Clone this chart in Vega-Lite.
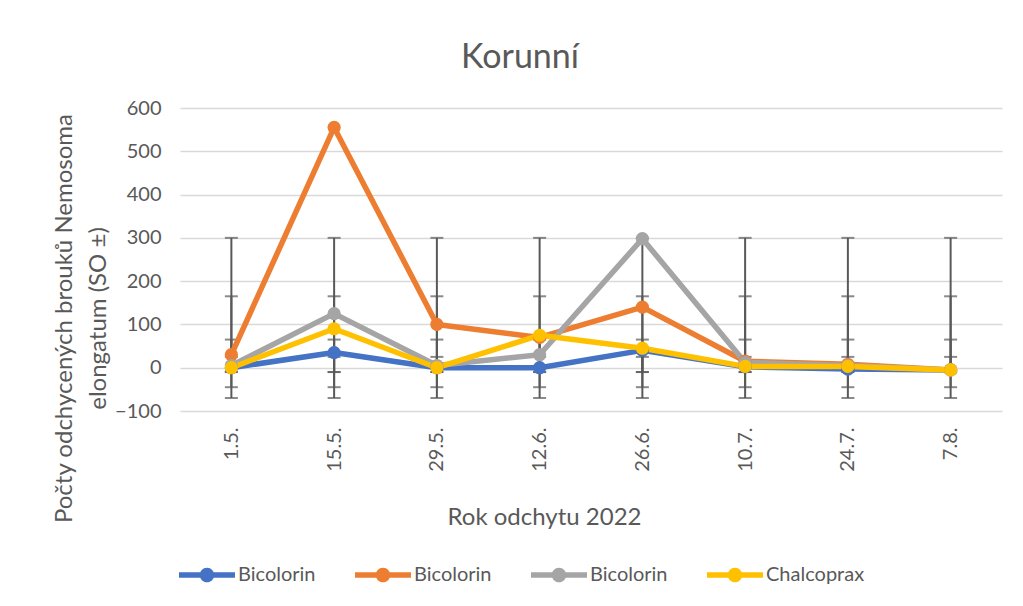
{
  "$schema": "https://vega.github.io/schema/vega-lite/v6.json",
  "width": 822,
  "height": 303,
  "autosize": {"type": "none"},
  "padding": {"left": 180, "top": 108, "right": 21, "bottom": 195},
  "background": "white",
  "config": {
    "view": {"stroke": null},
    "font": "Lato"
  },
  "title": {
    "text": "Korunní",
    "font": "Lato",
    "fontSize": 34,
    "fontWeight": "normal",
    "color": "#595959",
    "anchor": "middle",
    "dx": -71,
    "offset": 23
  },
  "data": {
    "values": [
      {"date": "1.5.", "series": "Bicolorin 1", "value": 0, "lo": -10, "hi": 25},
      {"date": "15.5.", "series": "Bicolorin 1", "value": 35, "lo": -10, "hi": 25},
      {"date": "29.5.", "series": "Bicolorin 1", "value": 0, "lo": -10, "hi": 25},
      {"date": "12.6.", "series": "Bicolorin 1", "value": 0, "lo": -10, "hi": 25},
      {"date": "26.6.", "series": "Bicolorin 1", "value": 40, "lo": -10, "hi": 25},
      {"date": "10.7.", "series": "Bicolorin 1", "value": 2, "lo": -10, "hi": 25},
      {"date": "24.7.", "series": "Bicolorin 1", "value": -3, "lo": -10, "hi": 25},
      {"date": "7.8.", "series": "Bicolorin 1", "value": -5, "lo": -10, "hi": 25},
      {"date": "1.5.", "series": "Bicolorin 2", "value": 30, "lo": -70, "hi": 300},
      {"date": "15.5.", "series": "Bicolorin 2", "value": 555, "lo": -70, "hi": 300},
      {"date": "29.5.", "series": "Bicolorin 2", "value": 100, "lo": -70, "hi": 300},
      {"date": "12.6.", "series": "Bicolorin 2", "value": 70, "lo": -70, "hi": 300},
      {"date": "26.6.", "series": "Bicolorin 2", "value": 140, "lo": -70, "hi": 300},
      {"date": "10.7.", "series": "Bicolorin 2", "value": 15, "lo": -70, "hi": 300},
      {"date": "24.7.", "series": "Bicolorin 2", "value": 8, "lo": -70, "hi": 300},
      {"date": "7.8.", "series": "Bicolorin 2", "value": -5, "lo": -70, "hi": 300},
      {"date": "1.5.", "series": "Bicolorin 3", "value": 5, "lo": -45, "hi": 165},
      {"date": "15.5.", "series": "Bicolorin 3", "value": 125, "lo": -45, "hi": 165},
      {"date": "29.5.", "series": "Bicolorin 3", "value": 5, "lo": -45, "hi": 165},
      {"date": "12.6.", "series": "Bicolorin 3", "value": 30, "lo": -45, "hi": 165},
      {"date": "26.6.", "series": "Bicolorin 3", "value": 298, "lo": -45, "hi": 165},
      {"date": "10.7.", "series": "Bicolorin 3", "value": 12, "lo": -45, "hi": 165},
      {"date": "24.7.", "series": "Bicolorin 3", "value": 5, "lo": -45, "hi": 165},
      {"date": "7.8.", "series": "Bicolorin 3", "value": -5, "lo": -45, "hi": 165},
      {"date": "1.5.", "series": "Chalcoprax", "value": 0, "lo": -10, "hi": 65},
      {"date": "15.5.", "series": "Chalcoprax", "value": 90, "lo": -10, "hi": 65},
      {"date": "29.5.", "series": "Chalcoprax", "value": 0, "lo": -10, "hi": 65},
      {"date": "12.6.", "series": "Chalcoprax", "value": 75, "lo": -10, "hi": 65},
      {"date": "26.6.", "series": "Chalcoprax", "value": 45, "lo": -10, "hi": 65},
      {"date": "10.7.", "series": "Chalcoprax", "value": 3, "lo": -10, "hi": 65},
      {"date": "24.7.", "series": "Chalcoprax", "value": 3, "lo": -10, "hi": 65},
      {"date": "7.8.", "series": "Chalcoprax", "value": -5, "lo": -10, "hi": 65}
    ]
  },
  "encoding": {
    "x": {
      "field": "date",
      "type": "ordinal",
      "sort": ["1.5.", "15.5.", "29.5.", "12.6.", "26.6.", "10.7.", "24.7.", "7.8."],
      "scale": {"type": "point", "padding": 0.5},
      "axis": {
        "title": "Rok odchytu 2022",
        "titleFont": "Lato",
        "titleFontSize": 24,
        "titleFontWeight": "normal",
        "titleColor": "#595959",
        "titleX": 364,
        "titleY": 94,
        "titleBaseline": "top",
        "titleAnchor": "middle",
        "titleAlign": "center",
        "labelAngle": -90,
        "labelFont": "Lato",
        "labelFontSize": 20,
        "labelColor": "#595959",
        "labelPadding": 16,
        "domain": false,
        "ticks": false,
        "grid": false
      }
    }
  },
  "layer": [
    {
      "mark": {"type": "rule", "color": "#595959", "strokeWidth": 2},
      "encoding": {
        "y": {"field": "lo", "type": "quantitative"},
        "y2": {"field": "hi"}
      }
    },
    {
      "mark": {"type": "tick", "color": "#595959", "thickness": 2, "size": 13, "orient": "horizontal"},
      "encoding": {"y": {"field": "lo", "type": "quantitative"}}
    },
    {
      "mark": {"type": "tick", "color": "#595959", "thickness": 2, "size": 13, "orient": "horizontal"},
      "encoding": {"y": {"field": "hi", "type": "quantitative"}}
    },
    {
      "mark": {"type": "line", "strokeWidth": 5.5, "strokeJoin": "round"},
      "encoding": {
        "y": {
          "field": "value",
          "type": "quantitative",
          "scale": {"domain": [-100, 600], "nice": false, "zero": false},
          "axis": {
            "values": [-100, 0, 100, 200, 300, 400, 500, 600],
            "title": ["Počty odchycených brouků Nemosoma", "elongatum (SO ±)"],
            "titleFont": "Lato",
            "titleFontSize": 24,
            "titleFontWeight": "normal",
            "titleColor": "#595959",
            "titleLineHeight": 34,
            "titleAngle": -90,
            "titleAlign": "center",
            "titleBaseline": "bottom",
            "titleX": -104,
            "titleY": 210,
            "labelFont": "Lato",
            "labelFontSize": 20,
            "labelColor": "#595959",
            "labelPadding": 19,
            "domain": false,
            "ticks": false,
            "grid": true,
            "gridColor": "#d9d9d9",
            "gridWidth": 1.5
          }
        },
        "color": {
          "field": "series",
          "type": "nominal",
          "scale": {
            "domain": ["Bicolorin 1", "Bicolorin 2", "Bicolorin 3", "Chalcoprax"],
            "range": ["#4472C4", "#ED7D31", "#A5A5A5", "#FFC000"]
          },
          "legend": {
            "orient": "none",
            "direction": "horizontal",
            "legendX": -1,
            "legendY": 439,
            "title": null,
            "labelExpr": "datum.label == 'Chalcoprax' ? 'Chalcoprax' : 'Bicolorin'",
            "labelFont": "Lato",
            "labelFontSize": 20,
            "labelColor": "#595959",
            "labelOffset": 3,
            "columnPadding": 39,
            "symbolType": "M-1,-0.095 L1,-0.095 L1,0.095 L-1,0.095 Z M-0.26,0 A0.26,0.26 0 1,1 0.26,0 A0.26,0.26 0 1,1 -0.26,0 Z",
            "symbolSize": 3136,
            "symbolStrokeWidth": 0,
            "encode": {
              "symbols": {
                "update": {
                  "fill": {"scale": "color", "field": "value"},
                  "strokeWidth": {"value": 0},
                  "opacity": {"value": 1}
                }
              }
            }
          }
        }
      }
    },
    {
      "mark": {"type": "point", "filled": true, "size": 175, "opacity": 1},
      "encoding": {
        "y": {"field": "value", "type": "quantitative"},
        "color": {"field": "series", "type": "nominal"}
      }
    }
  ]
}
